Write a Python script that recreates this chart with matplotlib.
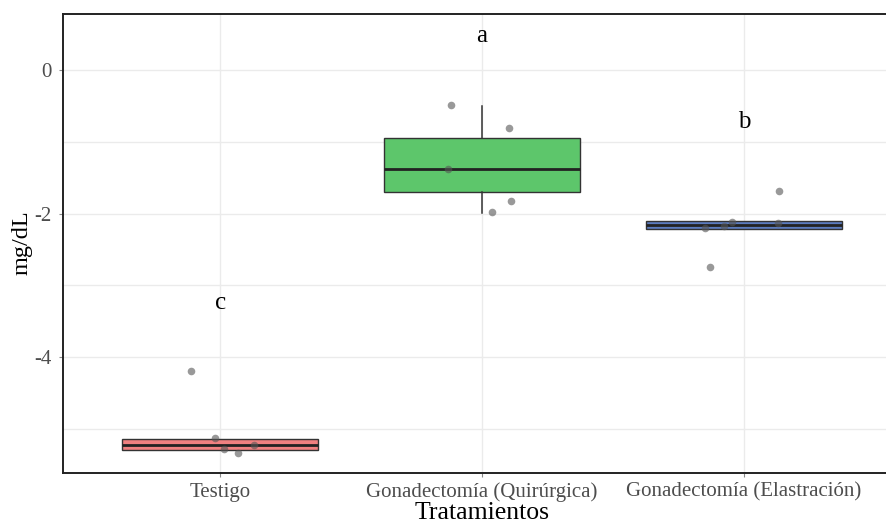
import matplotlib
matplotlib.use("Agg")
import matplotlib.pyplot as plt
import numpy as np

plt.rcParams["font.family"] = ["Liberation Serif", "DejaVu Serif"]

categories = ["Testigo", "Gonadectomía (Quirúrgica)", "Gonadectomía (Elastración)"]
fills = ["#F08080", "#5DC66B", "#5B7BBD"]
letters = ["c", "a", "b"]
letter_y = [-3.25, 0.47, -0.72]

# box summaries
q1 = [-5.296, -1.70, -2.212]
med = [-5.217, -1.385, -2.16]
q3 = [-5.143, -0.95, -2.104]
whislo = [-5.296, -1.99, -2.212]
whishi = [-5.143, -0.50, -2.104]

# jittered observations: group index, horizontal offset, value
pt_group = [0, 0, 0, 0, 0, 1, 1, 1, 1, 1, 2, 2, 2, 2, 2, 2]
pt_offset = [-0.113, -0.019, 0.013, 0.07, 0.13,
             -0.12, 0.103, -0.131, 0.109, 0.037,
             0.135, 0.131, -0.045, -0.077, -0.148, -0.131]
pt_value = [-4.19, -5.119, -5.273, -5.334, -5.217,
            -0.488, -0.804, -1.384, -1.83, -1.979,
            -1.686, -2.128, -2.118, -2.170, -2.206, -2.746]

fig = plt.figure(figsize=(8.86, 5.23), dpi=100)
ax = fig.add_axes([63 / 886, 1 - 473 / 523, (901 - 63) / 886, (473 - 13.5) / 523])

stats = []
for i in range(len(categories)):
    stats.append({"q1": q1[i], "med": med[i], "q3": q3[i],
                  "whislo": whislo[i], "whishi": whishi[i], "fliers": []})
pos = np.arange(1, len(categories) + 1)
bp = ax.bxp(stats, positions=pos, widths=0.75, patch_artist=True,
            showcaps=False, showfliers=False,
            boxprops=dict(edgecolor="#333333", linewidth=1.0),
            whiskerprops=dict(color="#333333", linewidth=1.1),
            medianprops=dict(color="#222222", linewidth=2.0))
for patch, c in zip(bp["boxes"], fills):
    patch.set_facecolor(c)
for art in bp["boxes"] + bp["whiskers"] + bp["medians"]:
    art.set_zorder(3)

px = [pos[g] + o for g, o in zip(pt_group, pt_offset)]
ax.scatter(px, pt_value, s=30, color="#555555", alpha=0.6, linewidths=0, zorder=4)

for p, lab, yy in zip(pos, letters, letter_y):
    ax.text(p, yy, lab, ha="center", va="center", fontsize=18, color="black")

ax.set_xlim(0.4, 3.6)
ax.set_ylim(-5.612, 0.787)
ax.set_xticks(pos)
ax.set_xticklabels(categories)
ax.set_yticks([0, -2, -4])
ax.set_yticklabels(["0", "-2", "-4"])
ax.set_yticks([-1, -3, -5], minor=True)
ax.grid(True, which="both", color="#EBEBEB", linewidth=1.0, zorder=0)
ax.set_axisbelow(True)
ax.tick_params(axis="both", which="major", labelsize=15, labelcolor="#4D4D4D",
               color="#888888", length=3, width=0.8)
ax.tick_params(axis="y", which="major", pad=5)
ax.tick_params(axis="x", which="major", pad=4)
ax.tick_params(axis="both", which="minor", length=0)
for s in ax.spines.values():
    s.set_color("#222222")
    s.set_linewidth(1.4)

ax.set_xlabel("Tratamientos", fontsize=18.5, labelpad=0)
ax.set_ylabel("mg/dL", fontsize=17.5, va="center")
ax.yaxis.set_label_coords((22 - 63) / 838, (473 - 243) / 459.5)

fig.savefig("out.png", dpi=100)
